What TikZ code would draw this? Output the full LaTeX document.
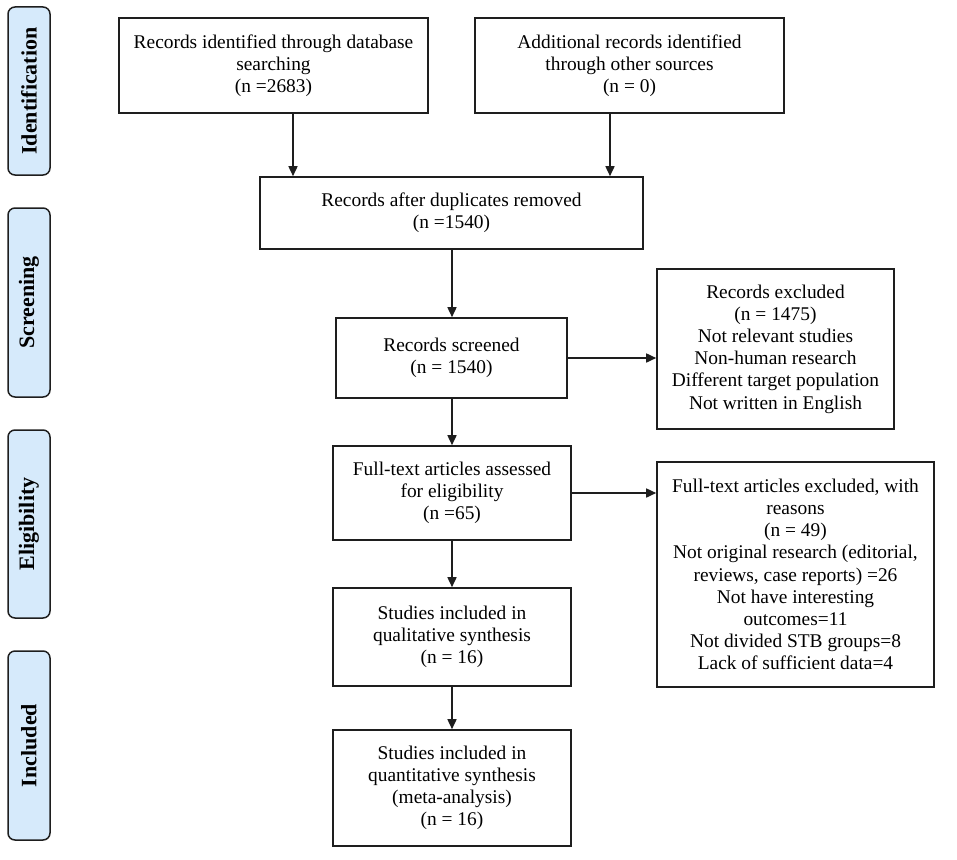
\documentclass[tikz,border=0pt]{standalone}
\usepackage{fontspec}
\setmainfont{Liberation Serif}
\usetikzlibrary{arrows.meta}
\definecolor{pillblue}{RGB}{214,234,251}
\definecolor{edge}{RGB}{30,30,30}
\begin{document}
\begin{tikzpicture}[x=1pt,y=-1pt,
  box/.style={draw=edge,line width=1.6pt,inner sep=0pt,align=center,
    font=\fontsize{19.4}{22.2}\selectfont},
  pill/.style={draw=edge,line width=1.5pt,fill=pillblue,rounded corners=7pt,
    rotate=90,inner sep=0pt,minimum height=42,
    font=\fontsize{22}{24}\selectfont\bfseries},
  arr/.style={line width=1.6pt,draw=edge,-{Triangle[length=10pt,width=9pt]}}]
\useasboundingbox (0,0) rectangle (957,859);
% phase labels
\node[pill,minimum width=168] (s1) at (29,91) {Identification};
\node[pill,minimum width=189] (s2) at (29,302.5) {Screening};
\node[pill,minimum width=188] (s3) at (29,524) {Eligibility};
\node[pill,minimum width=189] (s4) at (29,745.5) {Included};
% boxes
\node[box,minimum width=309,minimum height=95] (b1) at (273.5,65.5)
  {Records identified through database\\searching\\(n =2683)};
\node[box,minimum width=309,minimum height=95] (b2) at (629.5,65.5)
  {Additional records identified\\through other sources\\(n = 0)};
\node[box,minimum width=383,minimum height=72] (b3) at (451.5,213)
  {Records after duplicates removed\\(n =1540)};
\node[box,minimum width=231,minimum height=80] (b4) at (451.5,358)
  {Records screened\\(n = 1540)};
\node[box,minimum width=237,minimum height=160] (b5) at (775.5,349)
  {Records excluded\\(n = 1475)\\Not relevant studies\\Non-human research\\Different target population\\Not written in English};
\node[box,minimum width=238,minimum height=94] (b6) at (452,493)
  {Full-text articles assessed\\for eligibility\\(n =65)};
\node[box,minimum width=277,minimum height=225] (b7) at (795.5,574.5)
  {Full-text articles excluded, with\\reasons\\(n = 49)\\Not original research (editorial,\\reviews, case reports) =26\\Not have interesting\\outcomes=11\\Not divided STB groups=8\\Lack of sufficient data=4};
\node[box,minimum width=238,minimum height=98] (b8) at (452,637)
  {Studies included in\\qualitative synthesis\\(n = 16)};
\node[box,minimum width=238,minimum height=116] (b9) at (452,788)
  {Studies included in\\quantitative synthesis\\(meta-analysis)\\(n = 16)};
% connectors
\coordinate (c1) at (293,0);
\coordinate (c2) at (610,0);
\coordinate (c3) at (452,0);
\draw[arr] (b1.south -| c1) -- (b3.north -| c1);
\draw[arr] (b2.south -| c2) -- (b3.north -| c2);
\draw[arr] (b3.south -| c3) -- (b4.north -| c3);
\draw[arr] (b4.east) -- (b4.east -| b5.west);
\draw[arr] (b4.south -| c3) -- (b6.north -| c3);
\draw[arr] (b6.east) -- (b6.east -| b7.west);
\draw[arr] (b6.south -| c3) -- (b8.north -| c3);
\draw[arr] (b8.south -| c3) -- (b9.north -| c3);
\end{tikzpicture}
\end{document}
